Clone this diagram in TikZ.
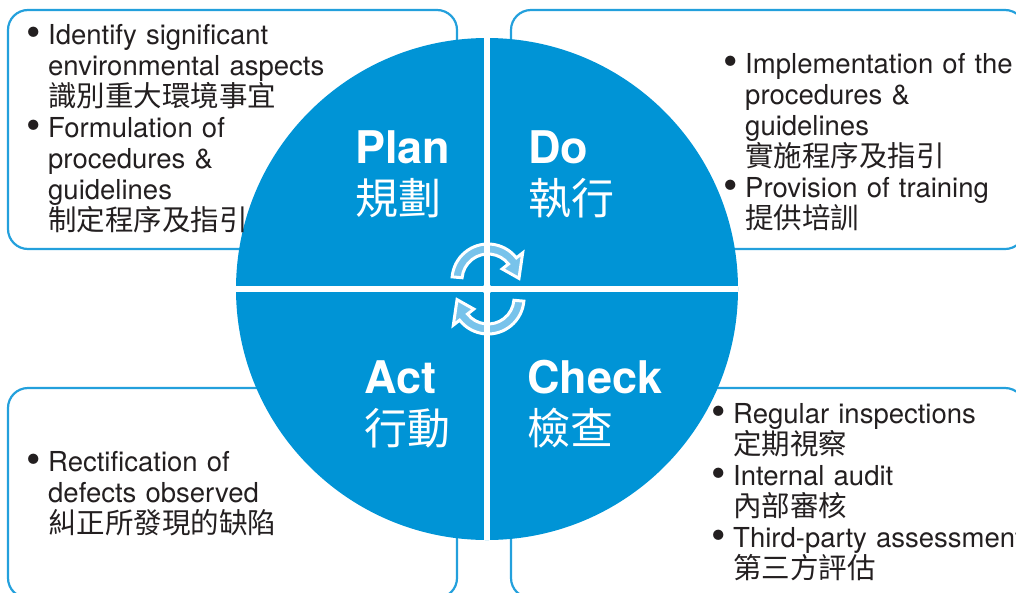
\documentclass[tikz,border=0pt]{standalone}
\usepackage{fontspec}
\setmainfont{TeX Gyre Heros}
\newfontfamily\cjk{Noto Sans CJK TC}

\definecolor{pdcablue}{RGB}{0,148,214}
\definecolor{boxline}{RGB}{35,160,220}
\definecolor{arrowfill}{RGB}{120,195,235}
\definecolor{inktext}{RGB}{35,31,32}

\newcommand{\bul}{\makebox[22pt][l]{\raisebox{-2pt}{\scalebox{1.5}{\textbullet}}}}
\newcommand{\ind}{\hspace*{22pt}}
\newcommand{\zh}[1]{{\cjk\fontsize{28.5}{31}\selectfont #1}}
\newcommand{\zhl}[1]{{\cjk\mdseries\fontsize{43}{51}\selectfont #1}}

\tikzset{
  infobox/.style={draw=boxline, line width=2.2pt, rounded corners=20pt},
  infotext/.style={anchor=base west, inner sep=0pt, text=inktext, text width=440pt,
    align=left, font=\fontsize{27.5}{31}\selectfont},
  phase/.style={anchor=base west, inner sep=0pt, text=white, text width=200pt,
    align=left, font=\fontsize{45}{51}\selectfont\bfseries},
  cycarrow/.style={fill=arrowfill, draw=white, line width=3pt},
  divider/.style={draw=white, line width=6pt}
}

\begin{document}
\begin{tikzpicture}[x=1pt,y=-1pt]
\useasboundingbox (0,0) rectangle (1016,592);

\draw[infobox] (8,10) rectangle (457,249);
\draw[infobox] (511,10) rectangle (1025,249);
\draw[infobox] (8,388) rectangle (457,598);
\draw[infobox] (511,388) rectangle (1025,598);

\fill[pdcablue] (487,289) circle[radius=251];

\begin{scope}[shift={(488,280)}]
\path[cycarrow] (185:36) arc[start angle=185,end angle=322,radius=36]
  -- (322:44) -- (357:31) -- (322:18) -- (322:26)
  arc[start angle=322,end angle=185,radius=26] -- cycle;
\end{scope}
\begin{scope}[shift={(488,298)}]
\path[cycarrow] (5:36) arc[start angle=5,end angle=142,radius=36]
  -- (142:44) -- (177:31) -- (142:18) -- (142:26)
  arc[start angle=142,end angle=5,radius=26] -- cycle;
\end{scope}

\draw[divider] (487,38) -- (487,540);
\draw[divider] (236,289) -- (738,289);
\fill[white] (487,289) circle[radius=5];

\node[phase] (plan) at (355,163) {Plan\\\zhl{規劃}};
\node[phase] (do) at (528,163) {Do\\\zhl{執行}};
\node[phase] (act) at (364,393) {Act\\\zhl{行動}};
\node[phase] (check) at (527,393) {Check\\\zhl{檢查}};

\node[infotext] (plannote) at (26,44) {\bul Identify significant\\\ind environmental aspects\\\ind\zh{識別重大環境事宜}\\\bul Formulation of\\\ind procedures \&\\\ind guidelines\\\ind\zh{制定程序及指引}};
\node[infotext] (donote) at (723,73) {\bul Implementation of the\\\ind procedures \&\\\ind guidelines\\\ind\zh{實施程序及指引}\\\bul Provision of training\\\ind\zh{提供培訓}};
\node[infotext] (actnote) at (26,471) {\bul Rectification of\\\ind defects observed\\\ind\zh{糾正所發現的缺陷}};
\node[infotext] (checknote) at (711,423) {\bul Regular inspections\\\ind\zh{定期視察}\\\bul Internal audit\\\ind\zh{內部審核}\\\bul Third-party assessment\\\ind\zh{第三方評估}};
\end{tikzpicture}
\end{document}
